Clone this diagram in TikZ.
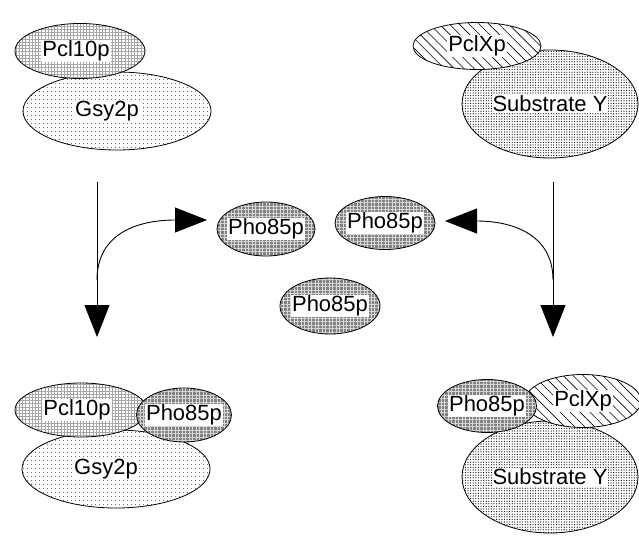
\documentclass[tikz,border=0pt]{standalone}
\usepackage{fontspec}
\setmainfont{Liberation Sans}
\usepackage{xcolor}
\usetikzlibrary{shapes, arrows.meta, patterns, patterns.meta, positioning}

% label with white box, optional horizontal offset
\newcommand{\plabel}[2][0pt]{\makebox[0pt]{\hspace*{#1}\hspace*{#1}\setlength{\fboxsep}{1pt}\colorbox{white}{#2}}}

\begin{document}
\begin{tikzpicture}[x=1pt, y=-1pt, font=\fontsize{22}{25}\selectfont]

\definecolor{my_gray}{RGB}{165,165,165}
\definecolor{my_gray_mid}{RGB}{130,130,130}
\definecolor{my_gray_light}{RGB}{215,215,215}

\tikzstyle{protein} = [ellipse, draw, line width=0.8pt, inner sep=0pt, outer sep=0pt]
\tikzstyle{pcl} = [protein, preaction={fill=white}, pattern={Hatch[angle=0, distance=3.2pt, line width=0.6pt]}, pattern color=my_gray]
\tikzstyle{gsy} = [protein, preaction={fill=white}, pattern={Dots[distance=4pt, radius=0.55pt]}, pattern color=black]
\tikzstyle{pclx} = [protein, preaction={fill=white}, pattern={Lines[angle=-45, distance=7pt, line width=0.6pt]}, pattern color=black]
\tikzstyle{substrate} = [protein, preaction={fill=white}, pattern={Dots[distance=2.6pt, radius=0.6pt]}, pattern color=black]
\tikzstyle{pho} = [protein, preaction={fill=my_gray_mid}, pattern={Hatch[angle=0, distance=3.5pt, line width=0.6pt]}, pattern color=my_gray_light]
\tikzstyle{flow} = [line width=0.9pt, -{Triangle[length=32pt, width=25pt]}]

\useasboundingbox (0,0) rectangle (639,535);

% top left complex
\node [gsy, minimum width=188pt, minimum height=78pt] (tlGsy) at (117,111) {\plabel[-10pt]{Gsy2p}};
\node [pcl, minimum width=130pt, minimum height=55pt] (tlPcl) at (80,51) {\plabel[-4pt]{Pcl10p}};

% top right complex
\node [substrate, minimum width=176pt, minimum height=108pt] (trSub) at (550,104) {\plabel{Substrate Y}};
\node [pclx, minimum width=128pt, minimum height=47pt] (trPcl) at (477,46) {\plabel{PclXp}};

% free Pho85p
\node [pho, minimum width=98pt, minimum height=54pt] (pho1) at (266,229) {\plabel{Pho85p}};
\node [pho, minimum width=100pt, minimum height=53pt] (pho2) at (385,223) {\plabel{Pho85p}};
\node [pho, minimum width=100pt, minimum height=56pt] (pho3) at (330,306) {\plabel{Pho85p}};

% bottom left complex
\node [gsy, minimum width=188pt, minimum height=78pt] (blGsy) at (116,469) {\plabel[-10pt]{Gsy2p}};
\node [pcl, minimum width=132pt, minimum height=54pt] (blPcl) at (81,410) {\plabel[-4pt]{Pcl10p}};
\node [pho, minimum width=95pt, minimum height=54pt] (blPho) at (184,415) {\plabel{Pho85p}};

% bottom right complex
\node [substrate, minimum width=176pt, minimum height=112pt] (brSub) at (550,477) {\plabel{Substrate Y}};
\node [pclx, minimum width=116pt, minimum height=53pt] (brPcl) at (583,401) {\plabel{PclXp}};
\node [pho, minimum width=99pt, minimum height=53pt] (brPho) at (487,406) {\plabel{Pho85p}};

\coordinate (lStart) at (97,182);
\coordinate (lEnd) at (97,337);
\coordinate (lBend) at (97,280);
\coordinate (lTip) at (207,220);
\coordinate (rStart) at (553,182);
\coordinate (rEnd) at (553,337);
\coordinate (rBend) at (553,280);
\coordinate (rTip) at (445,221);

\draw [flow] (lStart) -- (lEnd);
\draw [flow] (lBend) .. controls (97,232) and (140,220) .. (lTip);
\draw [flow] (rStart) -- (rEnd);
\draw [flow] (rBend) .. controls (553,233) and (510,221) .. (rTip);

\end{tikzpicture}
\end{document}
